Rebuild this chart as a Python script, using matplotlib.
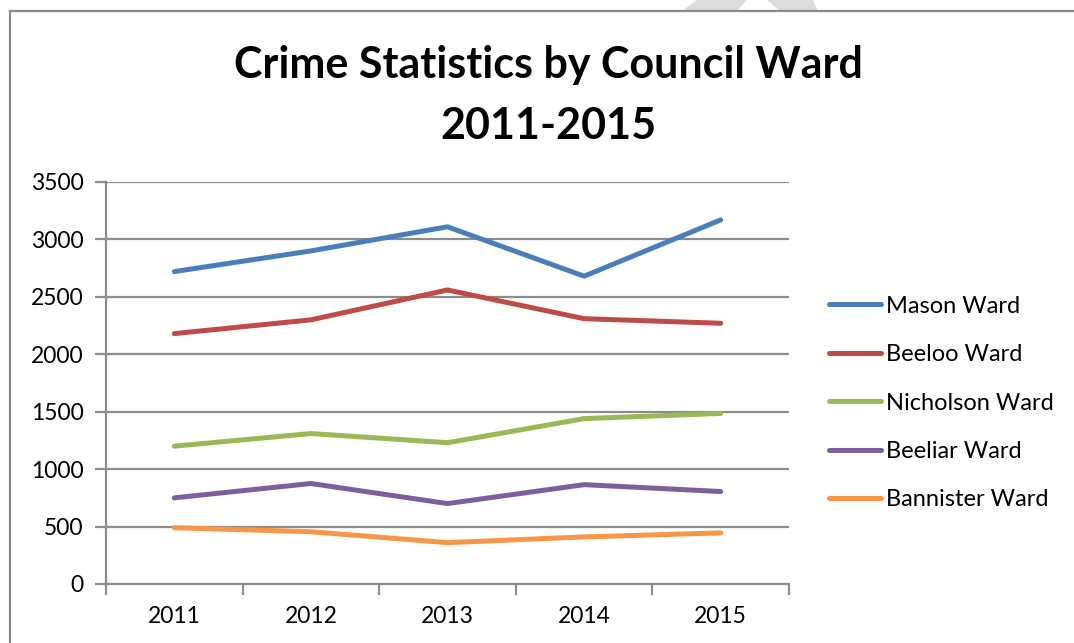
import matplotlib
matplotlib.use("Agg")
import matplotlib.pyplot as plt
from matplotlib.patches import Polygon
from matplotlib.lines import Line2D

plt.rcParams['font.family'] = ['Lato', 'DejaVu Sans']

years = ["2011", "2012", "2013", "2014", "2015"]
mason = [2720, 2900, 3110, 2680, 3170]
beeloo = [2180, 2300, 2560, 2310, 2270]
nicholson = [1200, 1310, 1230, 1440, 1485]
beeliar = [750, 875, 700, 865, 805]
bannister = [490, 455, 360, 410, 445]

series_names = ["Mason Ward", "Beeloo Ward", "Nicholson Ward", "Beeliar Ward", "Bannister Ward"]
series_values = [mason, beeloo, nicholson, beeliar, bannister]
series_colors = ["#4A7EBB", "#BE4B48", "#98B954", "#7D5FA0", "#F79646"]
y_ticks = [0, 500, 1000, 1500, 2000, 2500, 3000, 3500]

W, H = 1074, 643
fig = plt.figure(figsize=(W / 100, H / 100), dpi=100)
fig.patch.set_facecolor("white")

def px(x, y):
    return (x / W, 1 - y / H)

# frame around the chart (top and left edges)
fig.add_artist(Line2D([px(10, 0)[0], 1.0], [px(0, 11)[1]] * 2, color="#8A8A8A", lw=1.6))
fig.add_artist(Line2D([px(10, 0)[0]] * 2, [px(0, 11)[1], 0.0], color="#8A8A8A", lw=1.6))

# light grey chevron at the top edge
for arm in ([(682, 11), (697, 0), (747, 0), (737, 11)],
            [(780, 11), (767, 0), (813, 0), (818, 11)]):
    fig.add_artist(Polygon([px(*p) for p in arm], closed=True,
                           facecolor="#DCDCDC", edgecolor="none",
                           transform=fig.transFigure))

left, right, top, bottom = 106, 789, 182, 584
ax = fig.add_axes([left / W, 1 - bottom / H, (right - left) / W, (bottom - top) / H])

x = list(range(len(years)))
for name, vals, col in zip(series_names, series_values, series_colors):
    ax.plot(x, vals, color=col, lw=3.6, solid_capstyle="round",
            solid_joinstyle="round", label=name, zorder=3)

ax.set_xlim(-0.5, len(years) - 0.5)
ax.set_ylim(0, 3500)
ax.set_yticks(y_ticks)
ax.set_yticklabels([str(v) for v in y_ticks])
ax.set_xticks(x)
ax.set_xticklabels(years)
ax.set_xticks([i - 0.5 for i in range(len(years) + 1)], minor=True)

grid_col = "#8C8C8C"
ax.yaxis.grid(True, color=grid_col, lw=1.6, zorder=1)
ax.xaxis.grid(False)
ax.set_axisbelow(True)
for s in ["top", "right"]:
    ax.spines[s].set_visible(False)
ax.spines["left"].set_color(grid_col)
ax.spines["left"].set_linewidth(1.6)
ax.spines["bottom"].set_color(grid_col)
ax.spines["bottom"].set_linewidth(1.6)

ax.tick_params(axis="y", which="major", length=8, width=1.6, color=grid_col,
               labelsize=16.5, pad=8, direction="out")
ax.tick_params(axis="x", which="major", length=0, labelsize=16.5, pad=16)
ax.tick_params(axis="x", which="minor", length=8, width=1.6, color=grid_col,
               direction="out")

fig.text(548 / W, 1 - 95.5 / H, "Crime Statistics by Council Ward\n2011-2015",
         ha="center", va="center", fontsize=31, fontweight="bold",
         linespacing=1.62, color="black")

ax.legend(loc="center left", bbox_to_anchor=(829 / W, 1 - 403 / H),
          bbox_transform=fig.transFigure, frameon=False, fontsize=17,
          handlelength=2.2, handletextpad=0.22, labelspacing=1.16,
          borderpad=0, borderaxespad=0)

fig.savefig("out.png", dpi=100, facecolor="white")
